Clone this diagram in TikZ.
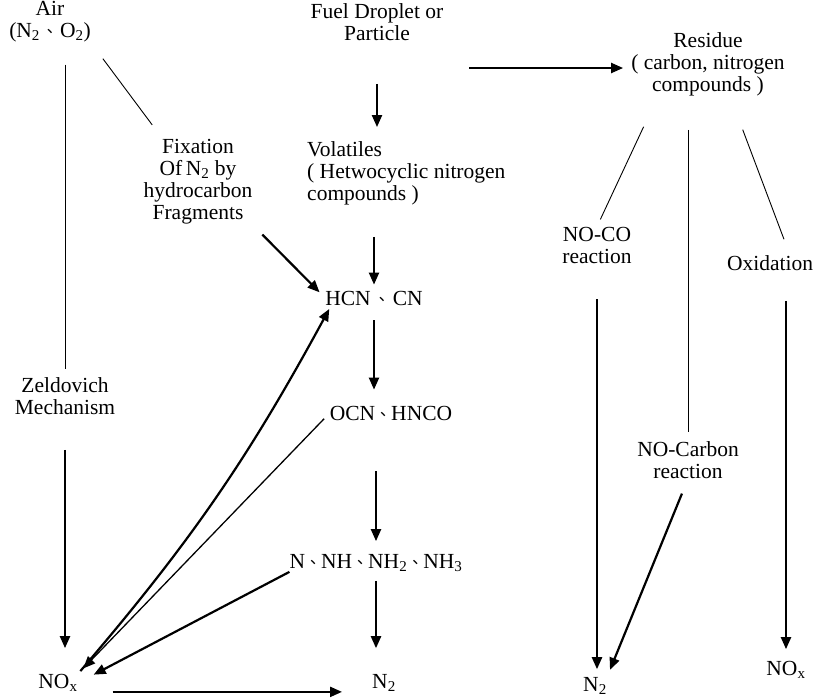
\documentclass[tikz,border=0pt]{standalone}
\usepackage{fontspec}
\setmainfont{Liberation Serif}
\newfontfamily\cjk{Noto Sans CJK TC}
\usetikzlibrary{arrows.meta}
\newcommand{\dun}{{\cjk\fontsize{16}{16}\selectfont 、}}
\begin{document}
\begin{tikzpicture}[x=1pt, y=-1pt,
            main/.style = {inner sep=0pt, align=center, font=\fontsize{21.5}{22}\selectfont},
            link/.style = {line width=0.9pt},
            arr/.style = {line width=2.2pt, -{Triangle[length=12pt,width=10pt]}}]
            \useasboundingbox (0,0) rectangle (816,697);
            \node[main] (air) at (50,22) {Air\\(N\textsubscript{2}\hspace{2pt}\dun\hspace{2pt}O\textsubscript{2})};
            \node[main] (fuel) at (377,22) {Fuel Droplet or\\Particle};
            \node[main] (res) at (708,64) {Residue\\( carbon, nitrogen\\compounds )};
            \node[main] (fix) at (198,182) {Fixation\\Of\,N\textsubscript{2} by\\hydrocarbon\\Fragments};
            \node[main, align=left, anchor=west] (vol) at (307,173) {Volatiles\\( Hetwocyclic nitrogen\\compounds )};
            \node[main] (zel) at (65,396) {Zeldovich\\Mechanism};
            \node[main] (hcn) at (374,298) {HCN\hspace{3pt}\dun\hspace{3pt}CN};
            \node[main] (ocn) at (391,413) {OCN\dun HNCO};
            \node[main] (nnh) at (376,563) {N\dun NH\dun NH\textsubscript{2}\dun NH\textsubscript{3}};
            \node[main] (noxl) at (58,683) {NO\textsubscript{x}};
            \node[main] (n2m) at (384,683) {N\textsubscript{2}};
            \node[main] (noco) at (597,245) {NO-CO\\reaction};
            \node[main] (oxi) at (770,263) {Oxidation};
            \node[main] (ncarb) at (688,460) {NO-Carbon\\reaction};
            \node[main] (n2r) at (595,686) {N\textsubscript{2}};
            \node[main] (noxr) at (786,670) {NO\textsubscript{x}};
            \draw[link, shorten <=22pt, shorten >=8pt] (zel.north |- air.south) -- (zel.north);
            \draw[link, shorten <=20pt, shorten >=18pt] (air.south east) -- ([xshift=-35pt]fix.north);
            \draw[arr, shorten <=14pt, shorten >=8pt] (fix.south east) -- (hcn.west);
            \draw[arr, shorten <=43pt, shorten >=14pt] (fuel.south) -- (fuel.south |- vol.north);
            \draw[arr, shorten <=32pt, shorten >=6pt] (hcn.north |- vol.south) -- (hcn.north);
            \draw[arr, shorten <=15pt, shorten >=16pt] (hcn.south) -- (hcn.south |- ocn.north);
            \draw[arr, shorten <=51pt, shorten >=13pt] (nnh.north |- ocn.south) -- (nnh.north);
            \draw[arr, shorten <=9pt, shorten >=26pt] (nnh.south) -- (nnh.south |- n2m.north);
            \draw[arr, shorten <=35pt, shorten >=26pt] (zel.south) -- (zel.south |- noxl.north);
            \draw[arr, shorten <=35pt, shorten >=30pt] (noxl.south east) -- (noxl.south east -| n2m.west);
            \draw[arr, shorten <=4pt, shorten >=4pt] (noxl.north east) to[bend right=6] ([xshift=6pt]hcn.south west);
            \draw[link, line width=1.3pt, -{Triangle[length=12pt,width=10pt]}, shorten <=8pt, shorten >=8pt] (ocn.west) -- (noxl.north east);
            \draw[arr, shorten >=18pt] (nnh.south west) -- (noxl.east);
            \draw[arr, shorten <=26pt, shorten >=8pt] ([yshift=-4pt]res.west -| fuel.east) -- ([yshift=-4pt]res.west);
            \draw[link, shorten <=34pt, shorten >=8pt] ([xshift=-50pt]res.south) -- (noco.north);
            \draw[link, shorten <=34pt, shorten >=9pt] (ncarb.north |- res.south) -- (ncarb.north);
            \draw[link, shorten <=36pt, shorten >=17pt] ([xshift=22pt]res.south) -- ([xshift=20pt]oxi.north);
            \draw[arr, shorten <=36pt, shorten >=8pt] (noco.south) -- (noco.south |- n2r.north);
            \draw[arr, shorten <=16pt, shorten >=8pt] (ncarb.south) -- (n2r.north east);
            \draw[arr, shorten <=30pt, shorten >=12pt] (noxr.north |- oxi.south) -- (noxr.north);
\end{tikzpicture}
\end{document}
